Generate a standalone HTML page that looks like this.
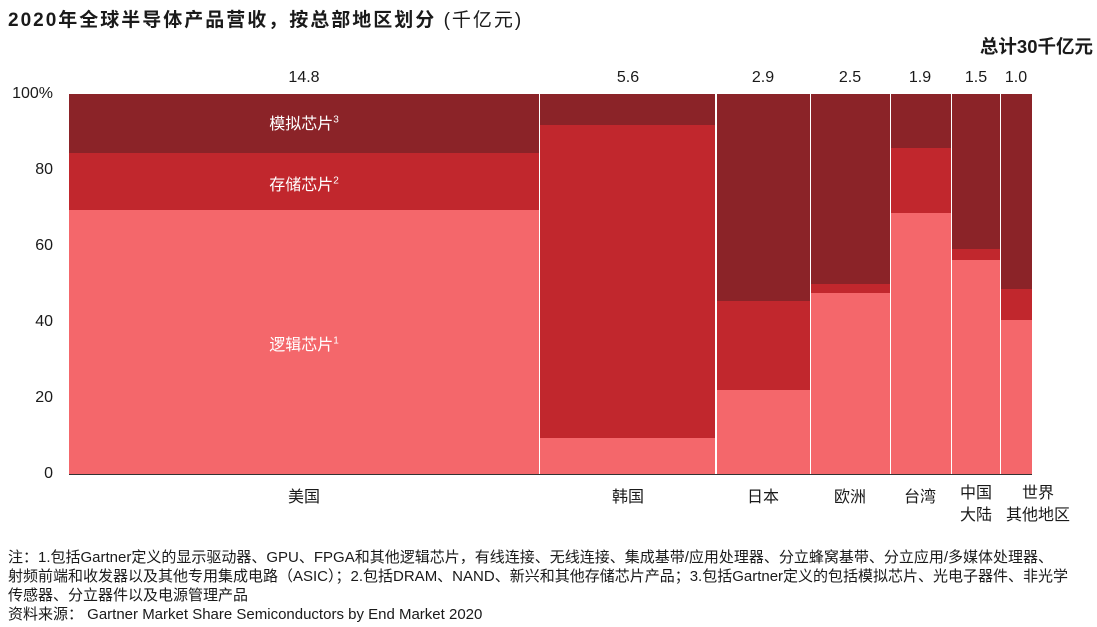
<!DOCTYPE html>
<html><head><meta charset="utf-8"><style>
body{margin:0;width:1097px;height:627px;background:#fff;position:relative;overflow:hidden;font-family:"Liberation Sans","Noto Sans CJK SC",sans-serif;color:#1a1a1a}
.a{position:absolute}
.d{background:#8B2328}.m{background:#C1272D}.l{background:#F4676B}
.t{position:absolute;font-size:16px;white-space:nowrap}
.c{transform:translateX(-50%);text-align:center}
.y{position:absolute;font-size:16px;right:1044px;transform:translateY(-50%)}
.w{color:#fff;font-size:16px}
.f{position:absolute;left:8px;font-size:15px;white-space:nowrap;line-height:19px}
</style></head><body>
<div class="t" style="left:8px;top:5px;font-size:19px;letter-spacing:2px;font-weight:bold">2020年全球半导体产品营收，按总部地区划分 <span style="font-weight:normal">(千亿元)</span></div>
<div class="t" style="right:4px;top:33px;font-size:18.5px;font-weight:bold">总计30千亿元</div>

<div class="y" style="top:94px">100%</div>
<div class="y" style="top:170px">80</div>
<div class="y" style="top:246px">60</div>
<div class="y" style="top:322px">40</div>
<div class="y" style="top:398px">20</div>
<div class="y" style="top:474px">0</div>

<div class="a d" style="left:69px;top:94px;width:470px;height:59px"></div>
<div class="a m" style="left:69px;top:153px;width:470px;height:57px"></div>
<div class="a l" style="left:69px;top:210px;width:470px;height:264px"></div>
<div class="a d" style="left:540px;top:94px;width:175px;height:31px"></div>
<div class="a m" style="left:540px;top:125px;width:175px;height:313px"></div>
<div class="a l" style="left:540px;top:438px;width:175px;height:36px"></div>
<div class="a d" style="left:717px;top:94px;width:93px;height:207px"></div>
<div class="a m" style="left:717px;top:301px;width:93px;height:89px"></div>
<div class="a l" style="left:717px;top:390px;width:93px;height:84px"></div>
<div class="a d" style="left:811px;top:94px;width:79px;height:190px"></div>
<div class="a m" style="left:811px;top:284px;width:79px;height:9px"></div>
<div class="a l" style="left:811px;top:293px;width:79px;height:181px"></div>
<div class="a d" style="left:891px;top:94px;width:60px;height:54px"></div>
<div class="a m" style="left:891px;top:148px;width:60px;height:65px"></div>
<div class="a l" style="left:891px;top:213px;width:60px;height:261px"></div>
<div class="a d" style="left:952px;top:94px;width:48px;height:155px"></div>
<div class="a m" style="left:952px;top:249px;width:48px;height:11px"></div>
<div class="a l" style="left:952px;top:260px;width:48px;height:214px"></div>
<div class="a d" style="left:1001px;top:94px;width:31px;height:195px"></div>
<div class="a m" style="left:1001px;top:289px;width:31px;height:31px"></div>
<div class="a l" style="left:1001px;top:320px;width:31px;height:154px"></div>

<div class="a" style="left:69px;top:474px;width:963px;height:1px;background:#333"></div>

<div class="t c w" style="left:304px;top:110px">模拟芯片<sup style="font-size:10px">3</sup></div>
<div class="t c w" style="left:304px;top:171px">存储芯片<sup style="font-size:10px">2</sup></div>
<div class="t c w" style="left:304px;top:331px">逻辑芯片<sup style="font-size:10px">1</sup></div>

<div class="t c" style="left:304px;top:69px">14.8</div>
<div class="t c" style="left:628px;top:69px">5.6</div>
<div class="t c" style="left:763px;top:69px">2.9</div>
<div class="t c" style="left:850px;top:69px">2.5</div>
<div class="t c" style="left:920px;top:69px">1.9</div>
<div class="t c" style="left:976px;top:69px">1.5</div>
<div class="t c" style="left:1016px;top:69px">1.0</div>

<div class="t c" style="left:304px;top:483px">美国</div>
<div class="t c" style="left:628px;top:483px">韩国</div>
<div class="t c" style="left:763px;top:483px">日本</div>
<div class="t c" style="left:850px;top:483px">欧洲</div>
<div class="t c" style="left:920px;top:483px">台湾</div>
<div class="t c" style="left:976px;top:483px;line-height:22px">中国<br>大陆</div>
<div class="t c" style="left:1038px;top:483px;line-height:22px">世界<br>其他地区</div>

<div class="f" style="top:548px">注：1.包括Gartner定义的显示驱动器、GPU、FPGA和其他逻辑芯片，有线连接、无线连接、集成基带/应用处理器、分立蜂窝基带、分立应用/多媒体处理器、</div>
<div class="f" style="top:567px">射频前端和收发器以及其他专用集成电路（ASIC）；2.包括DRAM、NAND、新兴和其他存储芯片产品；3.包括Gartner定义的包括模拟芯片、光电子器件、非光学</div>
<div class="f" style="top:586px">传感器、分立器件以及电源管理产品</div>
<div class="f" style="top:605px">资料来源： Gartner Market Share Semiconductors by End Market 2020</div>
</body></html>
